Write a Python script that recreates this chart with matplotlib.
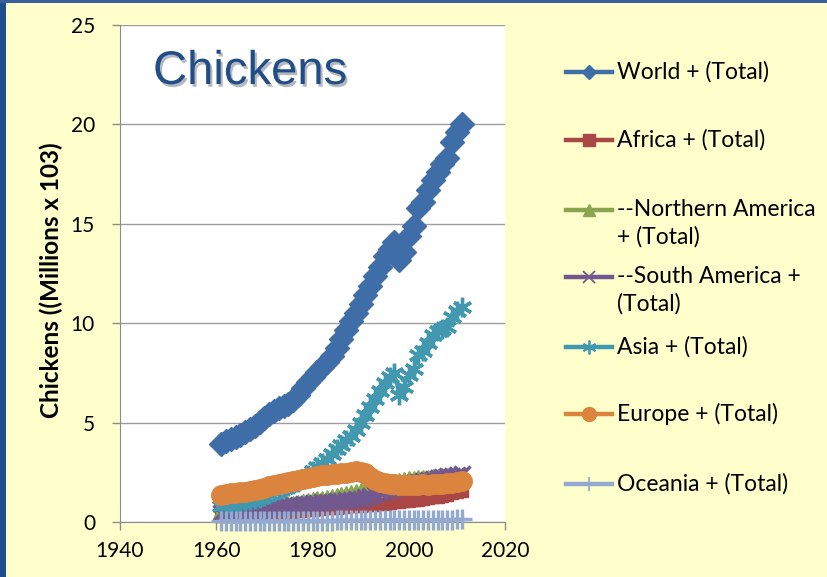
import matplotlib
matplotlib.use("Agg")
import matplotlib.pyplot as plt
import matplotlib.patheffects as pe
from matplotlib.lines import Line2D
from matplotlib.patches import Rectangle

# poultry stock, billions of head (millions x 10^3), 1961-2011
years = list(range(1961, 2012))

world = [3.90, 4.05, 4.20, 4.30, 4.40, 4.55, 4.70, 4.85, 5.05, 5.25,
         5.45, 5.60, 5.75, 5.85, 5.95, 6.15, 6.40, 6.75, 7.05, 7.30,
         7.55, 7.80, 8.05, 8.35, 8.75, 9.20, 9.65, 10.10, 10.50, 10.95,
         11.40, 11.85, 12.35, 12.85, 13.40, 13.75, 14.10, 13.20, 13.60, 14.40,
         14.90, 15.80, 16.10, 16.70, 17.20, 17.60, 18.00, 18.30, 19.10, 19.60,
         20.00]
africa = [0.28, 0.29, 0.30, 0.31, 0.32, 0.33, 0.34, 0.36, 0.37, 0.38,
          0.40, 0.42, 0.44, 0.46, 0.48, 0.50, 0.53, 0.56, 0.59, 0.62,
          0.64, 0.66, 0.68, 0.70, 0.72, 0.74, 0.76, 0.78, 0.80, 0.82,
          0.84, 0.86, 0.88, 0.90, 0.93, 0.96, 0.99, 1.02, 1.05, 1.08,
          1.10, 1.13, 1.16, 1.20, 1.24, 1.28, 1.32, 1.38, 1.44, 1.50,
          1.56]
n_america = [0.55, 0.57, 0.59, 0.61, 0.63, 0.66, 0.69, 0.71, 0.74, 0.78,
             0.80, 0.82, 0.84, 0.86, 0.88, 0.92, 0.96, 1.00, 1.05, 1.10,
             1.14, 1.18, 1.22, 1.26, 1.30, 1.35, 1.40, 1.45, 1.50, 1.58,
             1.65, 1.72, 1.80, 1.86, 1.92, 1.97, 2.02, 2.06, 2.10, 2.14,
             2.16, 2.19, 2.20, 2.22, 2.24, 2.26, 2.30, 2.32, 2.28, 2.30,
             2.33]
s_america = [0.45, 0.47, 0.49, 0.51, 0.53, 0.56, 0.58, 0.60, 0.62, 0.65,
             0.68, 0.71, 0.74, 0.77, 0.80, 0.83, 0.86, 0.89, 0.92, 0.95,
             0.97, 0.99, 1.01, 1.03, 1.05, 1.07, 1.09, 1.12, 1.15, 1.18,
             1.25, 1.33, 1.42, 1.50, 1.58, 1.65, 1.72, 1.78, 1.84, 1.90,
             1.95, 2.00, 2.05, 2.10, 2.15, 2.20, 2.25, 2.30, 2.32, 2.38,
             2.42]
asia = [0.80, 0.85, 0.90, 0.95, 1.00, 1.05, 1.10, 1.15, 1.20, 1.30,
        1.40, 1.50, 1.60, 1.70, 1.80, 1.90, 2.00, 2.15, 2.35, 2.55,
        2.75, 2.95, 3.15, 3.40, 3.65, 3.85, 4.10, 4.35, 4.65, 5.00,
        5.40, 5.80, 6.20, 6.60, 7.00, 7.30, 7.50, 6.40, 6.80, 7.40,
        7.70, 8.40, 8.60, 9.00, 9.40, 9.60, 9.70, 9.80, 10.30, 10.60,
        10.80]
europe = [1.35, 1.40, 1.45, 1.48, 1.50, 1.52, 1.55, 1.60, 1.65, 1.72,
          1.80, 1.85, 1.90, 1.95, 2.00, 2.05, 2.10, 2.15, 2.20, 2.25,
          2.30, 2.35, 2.38, 2.40, 2.42, 2.45, 2.48, 2.52, 2.55, 2.50,
          2.45, 2.25, 2.10, 2.00, 1.95, 1.92, 1.90, 1.88, 1.85, 1.85,
          1.85, 1.88, 1.90, 1.88, 1.90, 1.90, 1.92, 1.95, 1.95, 2.00,
          2.05]
oceania = [0.05, 0.05, 0.05, 0.05, 0.05, 0.06, 0.06, 0.06, 0.06, 0.06,
           0.06, 0.06, 0.06, 0.06, 0.06, 0.07, 0.07, 0.07, 0.07, 0.07,
           0.07, 0.07, 0.07, 0.07, 0.08, 0.08, 0.08, 0.08, 0.08, 0.08,
           0.08, 0.09, 0.09, 0.09, 0.09, 0.10, 0.10, 0.10, 0.10, 0.10,
           0.11, 0.11, 0.11, 0.11, 0.12, 0.12, 0.12, 0.12, 0.12, 0.13,
           0.13]

labels = ["World + (Total)", "Africa + (Total)", "--Northern America\n+ (Total)",
          "--South America +\n(Total)", "Asia + (Total)", "Europe + (Total)",
          "Oceania + (Total)"]
series = [world, africa, n_america, s_america, asia, europe, oceania]

colors = ["#3F6DA8", "#AA4643", "#89A54E", "#71588F", "#4198AF", "#DB843D", "#93A9CF"]
markers = ["D", "s", "^", "x", (6, 2, 0), "o", "+"]
msizes = [12, 9, 11, 11, 14, 14, 14]
legend_ms = [7, 8, 8, 9, 10, 10, 10]


def thin(m):
    return m in ("x", "+") or isinstance(m, tuple)


BG = "#FFFFCC"
fig = plt.figure(figsize=(8.27, 5.77), dpi=100)
fig.patch.set_facecolor(BG)

# slide frame
fig.add_artist(Rectangle((0, 0), 6 / 827, 1, transform=fig.transFigure,
                         fc="#1F4E8C", ec="none", zorder=0))
fig.add_artist(Rectangle((0, 1 - 3 / 577), 1, 3 / 577, transform=fig.transFigure,
                         fc="#3A5F9A", ec="none", zorder=0))

ax = fig.add_axes([120 / 827, 55 / 577, 385 / 827, 497 / 577])
ax.set_facecolor("white")

for vals, c, m, ms in zip(series, colors, markers, msizes):
    ax.plot(years, vals, color=c, lw=2.5, marker=m, ms=ms, mew=2.4 if thin(m) else 1,
            mfc=c, mec=c, clip_on=False, zorder=3)

ax.set_xlim(1940, 2020)
ax.set_ylim(0, 25)
ax.set_xticks([1940, 1960, 1980, 2000, 2020])
ax.set_yticks([0, 5, 10, 15, 20, 25])
ax.grid(axis="y", color="#9E9E9E", lw=1)
ax.set_axisbelow(True)
for s in ("top", "right"):
    ax.spines[s].set_visible(False)
for s in ("left", "bottom"):
    ax.spines[s].set_color("#8C8C8C")
ax.tick_params(axis="both", colors="#8C8C8C", length=6, width=1,
               labelcolor="black", labelsize=15)
ax.tick_params(axis="x", pad=8)
ax.tick_params(axis="y", pad=12)
for lab in ax.get_xticklabels() + ax.get_yticklabels():
    lab.set_fontfamily("Lato")

fig.text(51 / 827, 1 - 280 / 577, "Chickens ((Millions x 103)", rotation=90,
         ha="center", va="center", fontsize=17.5, fontweight="bold", family="Lato")

ax.text(153 / 827, 1 - 72 / 577, "Chickens", transform=fig.transFigure,
        ha="left", va="center", fontsize=34, color="#214E88", family="Liberation Sans",
        path_effects=[pe.SimplePatchShadow(offset=(1.5, -2), alpha=0.3), pe.Normal()])

# legend drawn by hand so two-line entries keep the key on the first line
leg_y = [72, 140, 210, 277, 347, 414, 484]
for lbl, c, m, lms, yy in zip(labels, colors, markers, legend_ms, leg_y):
    yf = 1 - yy / 577
    fig.add_artist(Line2D([566 / 827, 612 / 827], [yf, yf], transform=fig.transFigure,
                          color=c, lw=3.2))
    fig.add_artist(Line2D([589 / 827], [yf], transform=fig.transFigure, color=c,
                          marker=m, ms=lms, mfc=c, mec=c, mew=1.3 if thin(m) else 1))
    lines = lbl.split("\n")
    for k, part in enumerate(lines):
        fig.text(617 / 827, yf - k * 27 / 577, part, ha="left", va="center",
                 fontsize=16.5, family="Lato")

fig.savefig("out.png", dpi=100, facecolor=BG)
